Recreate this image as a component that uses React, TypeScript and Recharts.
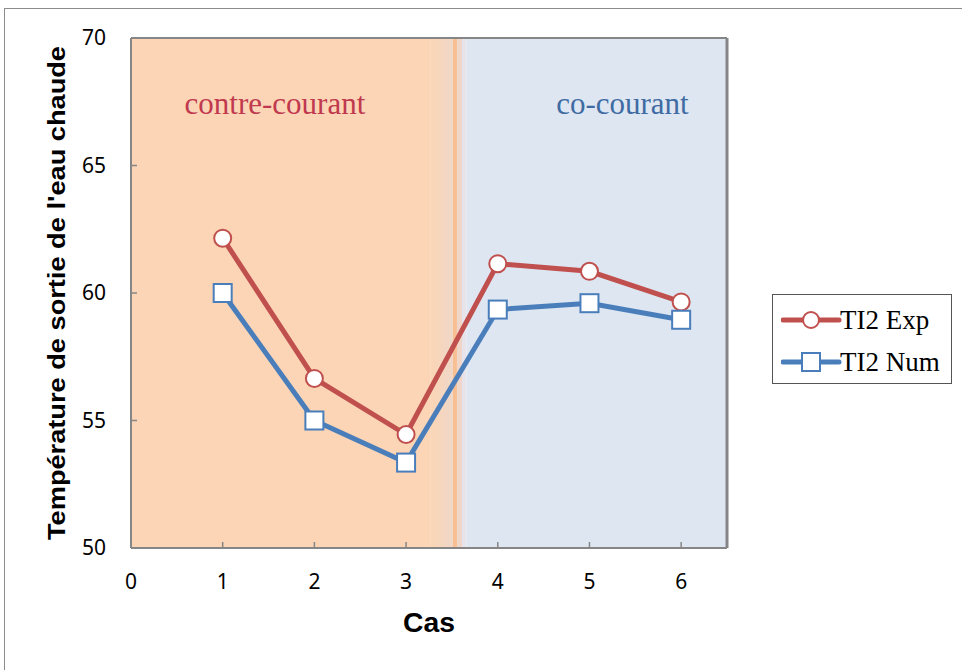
import React from 'react';
import {
    ComposedChart,
    Line,
    XAxis,
    YAxis,
    Legend,
    ReferenceArea,
    ReferenceDot,
    Label,
} from 'recharts';

// Cas 1-3 : contre-courant, cas 4-6 : co-courant
const CAS = [1, 2, 3, 4, 5, 6];
const TI2_EXP = [62.15, 56.65, 54.45, 61.15, 60.85, 59.65];
const TI2_NUM = [60.0, 55.0, 53.35, 59.35, 59.6, 58.95];

const X_TICKS = [0, 1, 2, 3, 4, 5, 6];
const Y_TICKS = [50, 55, 60, 65, 70];

const RED = '#C0504D';
const BLUE = '#4A7EBB';
const AXIS = '#868686';

const data = CAS.map((c, i) => ({ cas: c, exp: TI2_EXP[i], num: TI2_NUM[i] }));

const CircleDot = (props: any) => {
    const { cx, cy } = props;
    if (cx == null || cy == null) return null;
    return <circle cx={cx} cy={cy} r={8.5} fill="#fff" stroke={RED} strokeWidth={2} />;
};

const SquareDot = (props: any) => {
    const { cx, cy } = props;
    if (cx == null || cy == null) return null;
    return (
        <rect x={cx - 9} y={cy - 9} width={18} height={18} fill="#fff" stroke={BLUE} strokeWidth={2} />
    );
};

const LegendBox = () => {
    const rows = [
        { label: 'TI2 Exp', color: RED, shape: 'circle' },
        { label: 'TI2 Num', color: BLUE, shape: 'square' },
    ];
    return (
        <div
            style={{
                border: '1.5px solid #555',
                width: 180,
                height: 90,
                boxSizing: 'border-box',
                background: '#fff',
                paddingTop: 4,
            }}
        >
            {rows.map((r) => (
                <div key={r.label} style={{ display: 'flex', alignItems: 'center', height: 42 }}>
                    <svg width={66} height={24} style={{ marginLeft: 8 }}>
                        <line x1={2} y1={12} x2={58} y2={12} stroke={r.color} strokeWidth={5} strokeLinecap="round" />
                        {r.shape === 'circle' ? (
                            <circle cx={30} cy={12} r={8} fill="#fff" stroke={r.color} strokeWidth={2} />
                        ) : (
                            <rect x={21} y={3} width={18} height={18} fill="#fff" stroke={r.color} strokeWidth={2} />
                        )}
                    </svg>
                    <span
                        style={{
                            fontFamily: '"Liberation Serif", "Times New Roman", serif',
                            fontSize: 27,
                            color: '#000',
                            marginLeft: -7,
                        }}
                    >
                        {r.label}
                    </span>
                </div>
            ))}
        </div>
    );
};

export default function App() {
    return (
        <div style={{ position: 'absolute', left: 0, top: 0, width: 962, height: 670, overflow: 'hidden', background: '#fff' }}>
            <div
                style={{
                    position: 'absolute',
                    left: 4,
                    top: 8,
                    width: 1000,
                    height: 1000,
                    border: '1px solid #8c8c8c',
                }}
            />
            <ComposedChart
                width={962}
                height={670}
                data={data}
                margin={{ top: 37, right: 234, left: 51, bottom: 32 }}
                style={{ position: 'absolute', left: 0, top: 0 }}
            >
                <defs>
                    <linearGradient id="fade" x1="0" y1="0" x2="1" y2="0">
                        <stop offset="0%" stopColor="#FBD5B5" />
                        <stop offset="100%" stopColor="#EFD7C8" />
                    </linearGradient>
                </defs>

                <XAxis
                    xAxisId="x"
                    dataKey="cas"
                    type="number"
                    domain={[0, 6.5]}
                    ticks={X_TICKS}
                    allowDataOverflow
                    height={90}
                    tickSize={-6}
                    tickMargin={32}
                    axisLine={{ stroke: AXIS, strokeWidth: 2 }}
                    tickLine={{ stroke: AXIS, strokeWidth: 1.5 }}
                    tick={{ fill: '#000', fontSize: 21, fontFamily: '"Noto Sans", sans-serif' }}
                >
                    <Label
                        value="Cas"
                        position="insideBottom"
                        offset={6}
                        fill="#000"
                        fontSize={28}
                        fontWeight="bold"
                        fontFamily='"Liberation Sans", Arial, sans-serif'
                        textLength={52}
                        lengthAdjust="spacingAndGlyphs"
                    />
                </XAxis>
                <XAxis
                    xAxisId="top"
                    orientation="top"
                    type="number"
                    domain={[0, 6.5]}
                    ticks={X_TICKS}
                    height={1}
                    tickSize={-6}
                    tick={false}
                    axisLine={{ stroke: AXIS, strokeWidth: 2 }}
                    tickLine={{ stroke: AXIS, strokeWidth: 1.5 }}
                />
                <YAxis
                    yAxisId="y"
                    type="number"
                    domain={[50, 70]}
                    ticks={Y_TICKS}
                    width={80}
                    tickSize={-6}
                    tickMargin={31}
                    axisLine={{ stroke: AXIS, strokeWidth: 2 }}
                    tickLine={{ stroke: AXIS, strokeWidth: 1.5 }}
                    tick={{ fill: '#000', fontSize: 21, fontFamily: '"Noto Sans", sans-serif' }}
                >
                    <Label
                        value="Température de sortie de l'eau chaude"
                        angle={-90}
                        position="insideLeft"
                        offset={6}
                        fill="#000"
                        fontSize={23}
                        fontWeight="bold"
                        fontFamily='"Liberation Sans", Arial, sans-serif'
                        textLength={494}
                        lengthAdjust="spacingAndGlyphs"
                        style={{ textAnchor: 'middle' }}
                    />
                </YAxis>
                <YAxis
                    yAxisId="right"
                    orientation="right"
                    type="number"
                    domain={[50, 70]}
                    ticks={Y_TICKS}
                    width={1}
                    tickSize={-6}
                    tick={false}
                    axisLine={{ stroke: AXIS, strokeWidth: 3 }}
                    tickLine={{ stroke: AXIS, strokeWidth: 1.5 }}
                />

                <ReferenceArea xAxisId="x" yAxisId="y" x1={0} x2={3.27} y1={50} y2={70} fill="#FBD5B5" fillOpacity={1} stroke="none" />
                <ReferenceArea xAxisId="x" yAxisId="y" x1={3.27} x2={3.51} y1={50} y2={70} fill="url(#fade)" fillOpacity={1} stroke="none" />
                <ReferenceArea xAxisId="x" yAxisId="y" x1={3.51} x2={3.555} y1={50} y2={70} fill="#F8BF93" fillOpacity={1} stroke="none" />
                <ReferenceArea xAxisId="x" yAxisId="y" x1={3.555} x2={3.61} y1={50} y2={70} fill="#F0D6C8" fillOpacity={1} stroke="none" />
                <ReferenceArea xAxisId="x" yAxisId="y" x1={3.61} x2={3.66} y1={50} y2={70} fill="#E6E3EA" fillOpacity={1} stroke="none" />
                <ReferenceArea xAxisId="x" yAxisId="y" x1={3.66} x2={6.5} y1={50} y2={70} fill="#DEE6F2" fillOpacity={1} stroke="none" />

                <ReferenceDot xAxisId="x" yAxisId="y" x={1.57} y={67.45} r={0} stroke="none" fill="none">
                    <Label
                        value="contre-courant"
                        position="center"
                        fill="#C0394F"
                        fontSize={31}
                        fontFamily='"Liberation Serif", "Times New Roman", serif'
                    />
                </ReferenceDot>
                <ReferenceDot xAxisId="x" yAxisId="y" x={5.36} y={67.45} r={0} stroke="none" fill="none">
                    <Label
                        value="co-courant"
                        position="center"
                        fill="#3F6BA3"
                        fontSize={31}
                        fontFamily='"Liberation Serif", "Times New Roman", serif'
                    />
                </ReferenceDot>

                <Line
                    xAxisId="x"
                    yAxisId="y"
                    type="linear"
                    dataKey="exp"
                    name="TI2 Exp"
                    stroke={RED}
                    strokeWidth={5}
                    dot={<CircleDot />}
                    activeDot={false}
                    isAnimationActive={false}
                />
                <Line
                    xAxisId="x"
                    yAxisId="y"
                    type="linear"
                    dataKey="num"
                    name="TI2 Num"
                    stroke={BLUE}
                    strokeWidth={5}
                    dot={<SquareDot />}
                    activeDot={false}
                    isAnimationActive={false}
                />

                <Legend
                    layout="horizontal"
                    verticalAlign="middle"
                    align="center"
                    content={<LegendBox />}
                    wrapperStyle={{ left: 772, top: 294, width: 182, height: 92 }}
                />
            </ComposedChart>
        </div>
    );
}
